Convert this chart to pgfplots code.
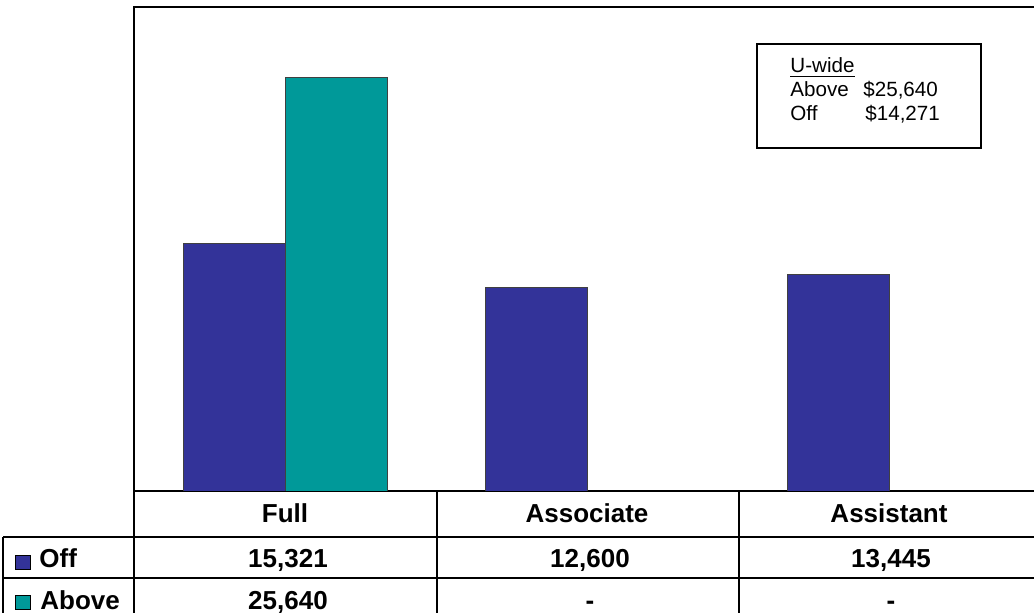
\documentclass[border=0pt]{standalone}
\usepackage{pgfplots}
\pgfplotsset{compat=1.18}
\usepackage{fontspec}
\setmainfont{Liberation Sans}
\definecolor{offblue}{RGB}{51,51,153}
\definecolor{aboveteal}{RGB}{0,153,153}
\newcommand{\tabfont}{\fontsize{13}{15}\selectfont\bfseries}
\newcommand{\boxfont}{\fontsize{10.3}{12}\selectfont}

\begin{document}
\begin{tikzpicture}
\useasboundingbox (0pt,0pt) rectangle (517pt,306.5pt);
\begin{pgfinterruptboundingbox}
\clip (0pt,0pt) rectangle (517pt,306.5pt);
\begin{axis}[
    at={(67pt,303pt)}, anchor=north west,
    scale only axis,
    width=453pt, height=242pt,
    xmin=-0.5, xmax=2.5,
    ymin=0, ymax=30000,
    enlargelimits=false,
    ybar=0pt, bar width=51pt,
    xtick={0,1,2},
    xticklabels={Full,Associate,Assistant},
    xtick style={draw=none},
    ytick=\empty,
    xticklabel style={font=\tabfont, anchor=base, yshift=-11.5pt},
    axis line style={line width=1pt},
]
\addplot[fill=offblue, draw=black!75, line width=0.4pt] coordinates {(0,15321) (1,12600) (2,13445)};
\addplot[fill=aboveteal, draw=black!75, line width=0.4pt] coordinates {(0,25640)};
\end{axis}

% data table below the chart, in pixel units from the top left
\begin{scope}[x=0.5pt, y=-0.5pt, shift={(0pt,306.5pt)}]
\draw[line width=1pt] (3,537) -- (1045,537);
\draw[line width=1pt] (3,578) -- (1045,578);
\draw[line width=1pt] (3,537) -- (3,620);
\draw[line width=1pt] (134,491) -- (134,620);
\draw[line width=1pt] (437,491) -- (437,620);
\draw[line width=1pt] (739,491) -- (739,620);

\filldraw[fill=offblue, draw=black, line width=0.5pt] (15,556) rectangle (30,570);
\node[anchor=base west, inner sep=0, font=\tabfont] at (39,568) {Off};
\filldraw[fill=aboveteal, draw=black, line width=0.5pt] (15,596) rectangle (30,610);
\node[anchor=base west, inner sep=0, font=\tabfont] at (40,610) {Above};

\node[anchor=base, inner sep=0, font=\tabfont] at (288,568) {15,321};
\node[anchor=base, inner sep=0, font=\tabfont] at (590,568) {12,600};
\node[anchor=base, inner sep=0, font=\tabfont] at (891,568) {13,445};
\node[anchor=base, inner sep=0, font=\tabfont] at (288,610) {25,640};
\node[anchor=base, inner sep=0, font=\tabfont] at (590,610) {-};
\node[anchor=base, inner sep=0, font=\tabfont] at (891,610) {-};

% U-wide box
\draw[line width=0.8pt] (757,44) rectangle (981,148);
\node[anchor=base west, inner sep=0, font=\boxfont] at (790,73) {\underline{U-wide}};
\node[anchor=base west, inner sep=0, font=\boxfont] at (790,97) {Above};
\node[anchor=base west, inner sep=0, font=\boxfont] at (863,97) {\$25,640};
\node[anchor=base west, inner sep=0, font=\boxfont] at (790,121) {Off};
\node[anchor=base west, inner sep=0, font=\boxfont] at (865,121) {\$14,271};
\end{scope}
\end{pgfinterruptboundingbox}
\end{tikzpicture}
\end{document}
